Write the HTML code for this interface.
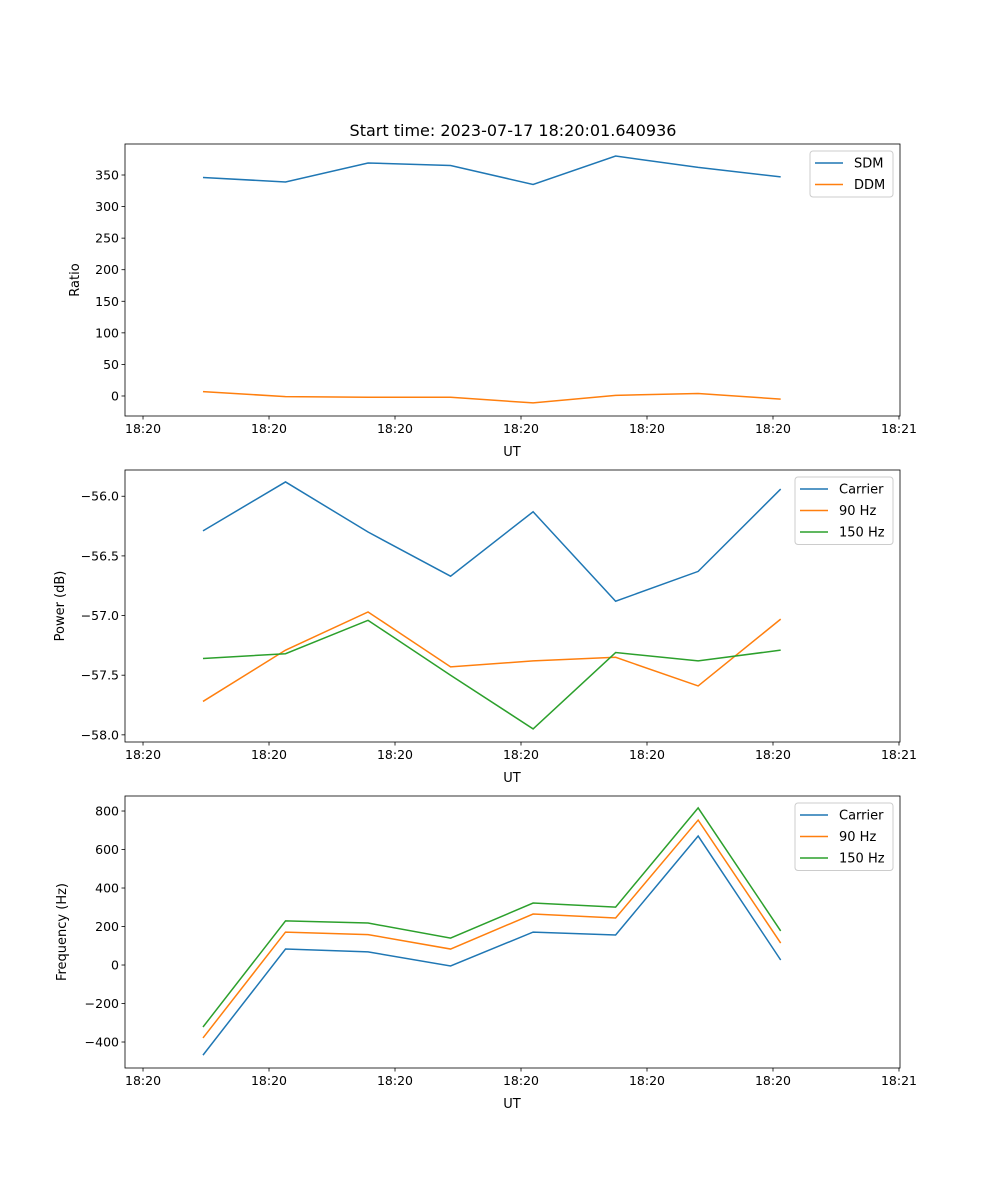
<!DOCTYPE html>
<html><head><meta charset="utf-8"><style>
body{margin:0;background:#fff}
svg{display:block;font-family:"DejaVu Sans","Liberation Sans",sans-serif}
</style></head><body>
<svg id="fig" width="1000" height="1200" xmlns="http://www.w3.org/2000/svg">
<text x="513" y="136" font-size="16" text-anchor="middle">Start time: 2023-07-17 18:20:01.640936</text>
</svg>
<script>
// shared x data (seconds from axis origin)
const times = [4.76, 11.31, 17.86, 24.41, 30.96, 37.51, 44.06, 50.61];
const xTickVals = [0, 10, 20, 30, 40, 50, 60];
const xTickLabels = ["18:20","18:20","18:20","18:20","18:20","18:20","18:21"];
// panel 1
const ratioTicks = [0, 50, 100, 150, 200, 250, 300, 350];
const sdm = [346, 339, 369, 365, 335, 380, 362, 347];
const ddm = [7, -1, -2, -2, -11, 1, 4, -5];
// panel 2
const powerTicks = [-56.0, -56.5, -57.0, -57.5, -58.0];
const powCarrier = [-56.29, -55.88, -56.30, -56.67, -56.13, -56.88, -56.63, -55.94];
const pow90 = [-57.72, -57.29, -56.97, -57.43, -57.38, -57.35, -57.59, -57.03];
const pow150 = [-57.36, -57.32, -57.04, -57.50, -57.95, -57.31, -57.38, -57.29];
// panel 3
const freqTicks = [800, 600, 400, 200, 0, -200, -400];
const freqCarrier = [-468, 83, 68, -5, 171, 156, 670, 26];
const freq90 = [-379, 171, 158, 83, 265, 244, 753, 114];
const freq150 = [-322, 229, 218, 140, 322, 301, 816, 177];

const NS="http://www.w3.org/2000/svg";
const svg=document.getElementById('fig');
const C={b:'#1f77b4',o:'#ff7f0e',g:'#2ca02c'};
function mk(t,a,p){const e=document.createElementNS(NS,t);for(const k in a)e.setAttribute(k,a[k]);(p||svg).appendChild(e);return e;}
const L=125,R=900,X0=-1.43,X1=60.08;
function xs(t){return L+(t-X0)/(X1-X0)*(R-L);}

function panel(name,top,y0,y1,ticks,fmt,ylabel,ylabX,series,legend){
  const bot=top+272;
  const ys=v=>bot-(v-y0)/(y1-y0)*272;
  const g=mk('g',{});
  
  
  xTickVals.forEach((v,i)=>{const x=xs(v);
    mk('line',{x1:x,x2:x,y1:bot,y2:bot+3.5,stroke:'#000','stroke-width':0.8},g);
    const t=mk('text',{x:x,y:bot+17,'font-size':12.5,'text-anchor':'middle'},g);t.textContent=xTickLabels[i];
    
    });
  ticks.forEach(v=>{const y=ys(v);
    mk('line',{x1:L-3.5,x2:L,y1:y,y2:y,stroke:'#000','stroke-width':0.8},g);
    const t=mk('text',{x:L-6,y:y+4.5,'font-size':12.5,'text-anchor':'end'},g);t.textContent=fmt(v);
    
    });
  series.forEach(s=>{
    const p=mk('polyline',{points:s.d.map((v,i)=>xs(times[i])+','+ys(v)).join(' '),fill:'none',stroke:s.c,'stroke-width':1.5},g);
    
    });
  mk('rect',{x:L,y:top,width:R-L,height:272,fill:'none',stroke:'#000','stroke-width':0.8},g);
  const xl=mk('text',{x:512,y:bot+40,'font-size':13,'text-anchor':'middle'},g);xl.textContent='UT';
  
  
  const yl=mk('text',{x:ylabX,y:top+136,'font-size':13,'text-anchor':'middle',transform:`rotate(-90 ${ylabX} ${top+136})`},g);yl.textContent=ylabel;
  
  
  const lg=mk('g',{},g);
  
  
  mk('rect',{x:legend.x,y:top+7,width:R-7-legend.x,height:series.length*21.5+3,rx:3,fill:'#fff',stroke:'#ccc','stroke-width':1},lg);
  series.forEach((s,i)=>{const y=top+19+i*21.5;
    mk('line',{x1:legend.x+5,x2:legend.x+33,y1:y,y2:y,stroke:s.c,'stroke-width':1.5},lg);
    const t=mk('text',{x:legend.x+44,y:y+4.5,'font-size':13},lg);t.textContent=s.label;
    
    });
}
panel('ratio',144,-31.7,399.1,ratioTicks,v=>String(v),'Ratio',79,
  [{d:sdm,c:C.b,n:'sdm',label:'SDM'},{d:ddm,c:C.o,n:'ddm',label:'DDM'}],{x:810});
panel('power',470,-58.06,-55.78,powerTicks,v=>'\u2212'+Math.abs(v).toFixed(1),'Power (dB)',64,
  [{d:powCarrier,c:C.b,n:'carrier',label:'Carrier'},{d:pow90,c:C.o,n:'90hz',label:'90 Hz'},{d:pow150,c:C.g,n:'150hz',label:'150 Hz'}],{x:795});
panel('frequency',796,-535,878,freqTicks,v=>v<0?'\u2212'+Math.abs(v):String(v),'Frequency (Hz)',66,
  [{d:freqCarrier,c:C.b,n:'carrier',label:'Carrier'},{d:freq90,c:C.o,n:'90hz',label:'90 Hz'},{d:freq150,c:C.g,n:'150hz',label:'150 Hz'}],{x:795});
</script>
</body></html>
